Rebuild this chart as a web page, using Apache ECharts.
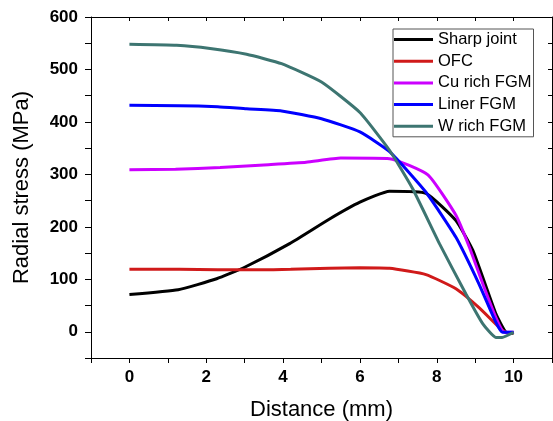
<!DOCTYPE html>
<html>
<head>
<meta charset="utf-8">
<script src="https://cdn.jsdelivr.net/npm/echarts@6/dist/echarts.min.js"></script>
<style>
html,body{margin:0;padding:0;background:#fff;}
#c{width:553px;height:421px;}
</style>
</head>
<body>
<div id="c"></div>
<script>
const seriesNames = ['Sharp joint', 'OFC', 'Cu rich FGM', 'Liner FGM', 'W rich FGM'];
const sharpX = [0, 1.27, 2.27, 3.0, 4.17, 5.21, 6.0, 6.77, 7.72, 8.5, 8.94, 9.54, 9.8, 10];
const sharpY = [71, 80, 101, 123, 168, 215, 247, 268, 264, 212, 155, 34, -1, -3];
const ofcX = [0, 1.3, 2.3, 3.3, 4.2, 5.2, 6.0, 6.77, 7.72, 8.5, 9.1, 9.63, 9.8, 10];
const ofcY = [119, 119, 118, 118, 119, 121, 122, 121, 109, 82, 46, 8, -1, -2];
const cuX = [0, 1.2, 2.36, 3.5, 4.6, 5.5, 6.77, 7.77, 8.5, 8.85, 9.2, 9.54, 9.76, 10];
const cuY = [309, 310, 313, 318, 323, 331, 330, 299, 222, 161, 91, 27, -1, -1];
const linerX = [0, 1.3, 2.3, 3.05, 3.96, 5.0, 6.0, 6.78, 7.72, 8.5, 9.1, 9.54, 9.71, 10];
const linerY = [432, 431, 429, 425, 421, 406, 381, 343, 266, 180, 91, 18, -1, -1];
const wX = [0, 1.23, 2.1, 3.05, 3.96, 5.0, 6.0, 6.77, 7.37, 8.07, 8.76, 9.2, 9.54, 9.7, 10];
const wY = [548, 546, 540, 529, 511, 476, 418, 346, 273, 168, 72, 15, -11, -11, -1];
const xTickLabels = [0, 2, 4, 6, 8, 10];
const yTickLabels = [0, 100, 200, 300, 400, 500, 600];

const colors = ['#000000', '#d01a1a', '#cc00ff', '#0000ff', '#3d7571'];
const xs = [sharpX, ofcX, cuX, linerX, wX];
const ys = [sharpY, ofcY, cuY, linerY, wY];
const FONT = 'Liberation Sans, Arial, sans-serif';

const chart = echarts.init(document.getElementById('c'), null, {renderer: 'canvas'});
const axisLineStyle = {color: '#000', width: 1};
chart.setOption({
  animation: false,
  backgroundColor: '#fff',
  grid: {left: 91, right: 1, top: 17, bottom: 63, containLabel: false, outerBoundsMode: 'none'},
  legend: {
    left: 393, top: 29, orient: 'vertical',
    data: seriesNames,
    icon: 'rect', itemWidth: 39, itemHeight: 3, itemGap: 4.7,
    padding: [2, 2, 2, 1],
    borderColor: '#555', borderWidth: 1, backgroundColor: '#fff',
    textStyle: {fontFamily: FONT, fontSize: 16.5, color: '#000', lineHeight: 16}
  },
  xAxis: [
    {
      type: 'value', position: 'bottom', min: -1, max: 11, interval: 1,
      axisLine: {show: true, onZero: false, lineStyle: axisLineStyle},
      axisTick: {show: true, inside: false, length: 5, lineStyle: axisLineStyle},
      axisLabel: {
        fontFamily: FONT, fontSize: 17, fontWeight: 'bold', color: '#000', margin: 11,
        formatter: v => xTickLabels.indexOf(v) >= 0 ? String(v) : ''
      },
      splitLine: {show: false},
      name: 'Distance (mm)', nameLocation: 'middle', nameGap: 41,
      nameTextStyle: {fontFamily: FONT, fontSize: 22, color: '#000'}
    },
    {
      type: 'value', position: 'top', min: -1, max: 11, interval: 1,
      axisLine: {show: true, onZero: false, lineStyle: axisLineStyle},
      axisTick: {show: true, inside: true, length: 4, lineStyle: axisLineStyle},
      axisLabel: {show: false},
      splitLine: {show: false}
    }
  ],
  yAxis: [
    {
      type: 'value', position: 'left', min: -50, max: 600, interval: 50,
      axisLine: {show: true, onZero: false, lineStyle: axisLineStyle},
      axisTick: {show: true, inside: false, length: 6, lineStyle: axisLineStyle},
      axisLabel: {
        fontFamily: FONT, fontSize: 17, fontWeight: 'bold', color: '#000', margin: 13,
        formatter: v => yTickLabels.indexOf(v) >= 0 ? String(v) : ''
      },
      splitLine: {show: false},
      name: 'Radial stress (MPa)', nameLocation: 'middle', nameGap: 58,
      nameTextStyle: {fontFamily: FONT, fontSize: 22, color: '#000'}
    },
    {
      type: 'value', position: 'right', min: -50, max: 600, interval: 50,
      axisLine: {show: true, onZero: false, lineStyle: axisLineStyle},
      axisTick: {show: true, inside: true, length: 4, lineStyle: axisLineStyle},
      axisLabel: {show: false},
      splitLine: {show: false}
    }
  ],
  series: seriesNames.map((name, k) => ({
    name: name, type: 'line', xAxisIndex: 0, yAxisIndex: 0,
    data: xs[k].map((x, i) => [x, ys[k][i]]),
    showSymbol: false, symbol: 'none', smooth: 0.15,
    lineStyle: {color: colors[k], width: 3},
    itemStyle: {color: colors[k]},
    z: 2 + k
  }))
});
</script>
</body>
</html>
